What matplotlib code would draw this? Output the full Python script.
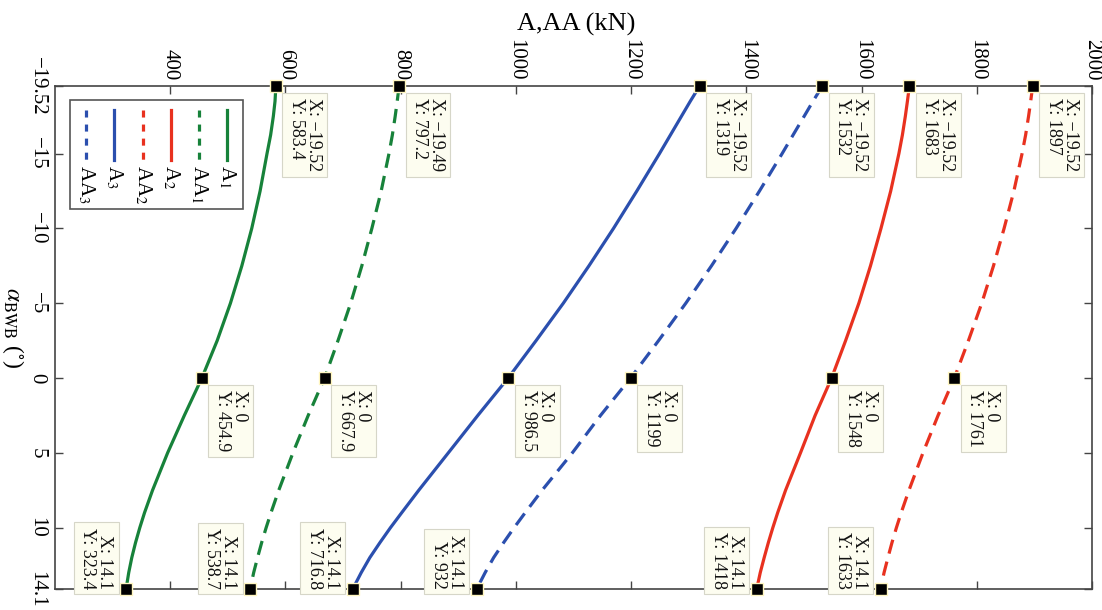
import matplotlib.pyplot as plt
from matplotlib.lines import Line2D
from matplotlib.patches import Rectangle

plt.rcParams['font.family'] = ['Liberation Serif', 'DejaVu Serif']
plt.rcParams['mathtext.fontset'] = 'stix'

# angle alpha_BWB (deg) and forces (kN)
alpha = [-19.52, -18.5, -17.5, -16.25, -15, -12.5, -10, -7.5, -5, -2.5, 0,
         2.5, 5, 7.5, 9, 10, 11, 12, 13, 14.1]
alpha_aa1 = [-19.49] + alpha[1:]

a1 = [583.4, 581.9, 579.0, 574.3, 568.0, 556.0, 541.5, 524.3, 504.5, 481.5, 454.9,
      424.5, 395.5, 369.3, 355.4, 347.2, 339.8, 333.3, 328.0, 323.4]
aa1 = [797.2, 794.0, 790.5, 785.6, 779.7, 766.2, 750.0, 732.6, 713.2, 691.2, 667.9,
       639.5, 613.0, 588.4, 574.9, 566.5, 558.7, 551.6, 544.9, 538.7]
a2 = [1683, 1679.6, 1676.0, 1670.9, 1664.8, 1650.6, 1633.7, 1615.5, 1595.3, 1572.3, 1548,
      1519.4, 1494.0, 1468.1, 1454.4, 1446.0, 1438.2, 1431.0, 1424.2, 1418]
aa2 = [1897, 1893.6, 1889.9, 1884.8, 1878.6, 1864.4, 1847.4, 1829.0, 1808.6, 1785.5, 1761,
       1732.8, 1706.6, 1682.3, 1668.8, 1660.5, 1652.8, 1645.8, 1639.1, 1633]
a3 = [1319, 1302.7, 1287.4, 1268.3, 1249.2, 1209.9, 1169.4, 1126.8, 1082.3, 1035.0, 986.5,
      933.9, 882.7, 831.4, 801.8, 782.3, 764.0, 746.5, 731.6, 716.8]
aa3 = [1532, 1515.7, 1500.4, 1481.2, 1462.1, 1422.8, 1382.2, 1339.5, 1294.9, 1247.6, 1199,
       1146.9, 1098.0, 1045.5, 1016.1, 996.9, 978.7, 961.4, 946.7, 932]

labels = [r'A$_1$', r'AA$_1$', r'A$_2$', r'AA$_2$', r'A$_3$', r'AA$_3$']
xticks = [400, 600, 800, 1000, 1200, 1400, 1600, 1800, 2000]
yticks = [-19.52, -15, -10, -5, 0, 5, 10, 14.1]

GREEN = '#17823a'
RED = '#e8311f'
BLUE = '#2b4fae'

series = [
    (alpha, a1, GREEN, False),
    (alpha_aa1, aa1, GREEN, True),
    (alpha, a2, RED, False),
    (alpha, aa2, RED, True),
    (alpha, a3, BLUE, False),
    (alpha, aa3, BLUE, True),
]
tip_alpha = [-19.52, 0, 14.1]


def fmt(v):
    return ('%g' % v).replace('-', '\u2212')


fig = plt.figure(figsize=(11.02, 6.10), dpi=100)
ax = fig.add_axes([55 / 1102, 1 - 589 / 610, 1037 / 1102, 503 / 610])

for al, vals, col, dashed in series:
    if dashed:
        ax.plot(vals, al, color=col, lw=2.3, dashes=(4.5, 2.6))
    else:
        ax.plot(vals, al, color=col, lw=2.3)

    # data tips at the first, middle (alpha = 0) and last point
    tips = [0, al.index(0), len(al) - 1]
    for k, i in enumerate(tips):
        ax.plot(vals[i], al[i], 's', ms=8.5, mfc='k', mec='#fff6c0', mew=1.0,
                clip_on=False, zorder=5)
        txt = 'X: %s\nY: %s' % (fmt(al[i]), fmt(vals[i]))
        if k < 2:
            off, ha, va = (12, -12), 'left', 'top'
        else:
            off, ha, va = (-13, 0), 'right', 'bottom'
        ax.annotate(txt, xy=(vals[i], al[i]), xytext=off, textcoords='offset pixels',
                    rotation=-90, ha=ha, va=va, fontsize=13, linespacing=1.0,
                    color='#111111', zorder=6, annotation_clip=False,
                    bbox=dict(boxstyle='square,pad=0.3', fc='#fdfdf0', ec='#d6d6c8', lw=0.8))

ax.set_xlim(200, 2000)
ax.set_ylim(14.1, -19.52)
ax.set_xticks(xticks)
ax.set_xticklabels([fmt(v) for v in xticks])
ax.set_yticks(yticks)
ax.set_yticklabels([fmt(v) for v in yticks])

ax.xaxis.tick_top()
ax.tick_params(axis='both', direction='in', length=6, width=1, color='#444444',
               top=True, bottom=True, left=True, right=True, labelsize=15)
ax.tick_params(axis='x', labeltop=True, labelbottom=False, labelrotation=-90, pad=4)
ax.tick_params(axis='y', labelrotation=-90, pad=6)
for lbl in ax.get_yticklabels():
    lbl.set_va('center')
for sp in ax.spines.values():
    sp.set_color('#444444')
    sp.set_linewidth(1.2)

ax.set_xlabel('A,AA (kN)', fontsize=19)
ax.xaxis.set_label_position('top')
ax.xaxis.set_label_coords(0.503, 1.123)
ax.xaxis.label.set_va('center')
ax.set_ylabel(r'$\alpha_{\rm BWB}$ ($^{\circ}$)', fontsize=17, rotation=-90, ha='center', va='center')
ax.yaxis.set_label_coords(-0.041, 0.52)

# legend, drawn rotated like the rest of the figure
ax.add_patch(Rectangle((0.0145, 0.7555), 0.1665, 0.2165, transform=ax.transAxes,
                       fc='white', ec='#555555', lw=1.2, zorder=7))
leg_x = [0.1655, 0.139, 0.1115, 0.0846, 0.0572, 0.0299]
for x, (al, vals, col, dashed), lab in zip(leg_x, series, labels):
    ln = Line2D([x, x], [0.952, 0.853], transform=ax.transAxes, color=col, lw=2.3, zorder=8)
    if dashed:
        ln.set_dashes((2.2, 2.2))
    ax.add_artist(ln)
    ax.text(x, 0.843, lab, transform=ax.transAxes, rotation=-90, ha='center', va='top',
            fontsize=15, zorder=8)

fig.savefig('out.png', dpi=100)
